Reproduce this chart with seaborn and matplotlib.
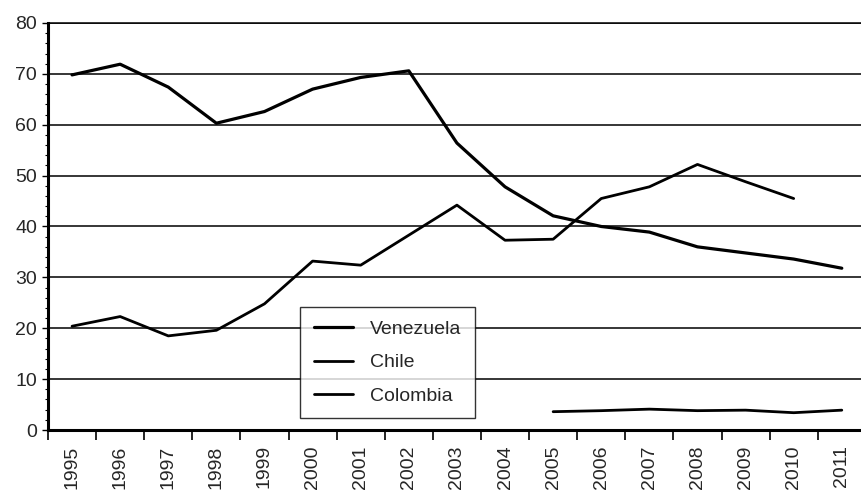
import numpy as np
import pandas as pd
import matplotlib
matplotlib.use('Agg')
import matplotlib.pyplot as plt
from matplotlib.ticker import MultipleLocator, FixedLocator
import seaborn as sns

#  data 
years = list(range(1995, 2012))

venezuela = [69.8, 71.9, 67.4, 60.3, 62.6, 67.0, 69.3, 70.6, 56.4,
             47.8, 42.1, 40.0, 38.9, 36.0, 34.8, 33.6, 31.8]
chile_years = list(range(1995, 2011))
chile = [20.4, 22.3, 18.5, 19.6, 24.8, 33.2, 32.4, 38.3, 44.2,
         37.3, 37.5, 45.5, 47.8, 52.2, 48.8, 45.5]
colombia_years = list(range(2005, 2012))
colombia = [3.6, 3.8, 4.1, 3.8, 3.9, 3.4, 3.9]

sns.set_style('white')
plt.rcParams['font.family'] = ['Liberation Sans', 'DejaVu Sans']

fig = plt.figure(figsize=(8.62, 4.94), dpi=100)
ax = fig.add_axes([48 / 862, 64 / 494, 814 / 862, 407 / 494])

# positions on a categorical axis (0 = 1995)
pos = {y: i for i, y in enumerate(years)}

df_ven = pd.DataFrame({'x': [pos[y] for y in years], 'v': venezuela})
df_chi = pd.DataFrame({'x': [pos[y] for y in chile_years], 'v': chile})
df_col = pd.DataFrame({'x': [pos[y] for y in colombia_years], 'v': colombia})

sns.lineplot(data=df_ven, x='x', y='v', ax=ax, color='black', linewidth=2.3,
             label='Venezuela')
sns.lineplot(data=df_chi, x='x', y='v', ax=ax, color='black', linewidth=2.0,
             label='Chile')
sns.lineplot(data=df_col, x='x', y='v', ax=ax, color='black', linewidth=2.0,
             label='Colombia')

ax.set_xlim(-0.5, 16.42)
ax.set_ylim(0, 80)
ax.set_xlabel('')
ax.set_ylabel('')

# y axis
ax.yaxis.set_major_locator(MultipleLocator(10))
ax.yaxis.set_minor_locator(MultipleLocator(2))
ax.tick_params(axis='y', which='major', direction='out', length=4, width=1,
               pad=4, labelsize=14, color='black', left=True)
ax.tick_params(axis='y', which='minor', direction='out', length=2, width=0.8,
               color='black', left=True)

# x axis: labels at centres, tick marks at bin edges
ax.set_xticks(range(len(years)))
ax.set_xticklabels([str(y) for y in years], rotation=90)
ax.xaxis.set_minor_locator(FixedLocator(np.arange(-0.5, len(years), 1.0)))
ax.tick_params(axis='x', which='major', length=0, pad=11, labelsize=14)
ax.tick_params(axis='x', which='minor', direction='out', length=7, width=1.2,
               color='black', bottom=True)

ax.grid(axis='y', which='major', color='black', linewidth=1.1)
ax.grid(axis='x', visible=False)

for side in ['left', 'bottom']:
    ax.spines[side].set_color('black')
    ax.spines[side].set_linewidth(2.2)
ax.spines['right'].set_visible(False)
ax.spines['top'].set_color('black')
ax.spines['top'].set_linewidth(1.1)

leg = ax.legend(loc='lower left', bbox_to_anchor=(0.31, 0.029),
                borderaxespad=0, fontsize=14, frameon=True, fancybox=False,
                handlelength=2.0, handletextpad=0.9, labelspacing=0.8,
                borderpad=0.7)
leg.get_frame().set_edgecolor('black')
leg.get_frame().set_linewidth(1.0)

fig.savefig('out.png', dpi=100)
